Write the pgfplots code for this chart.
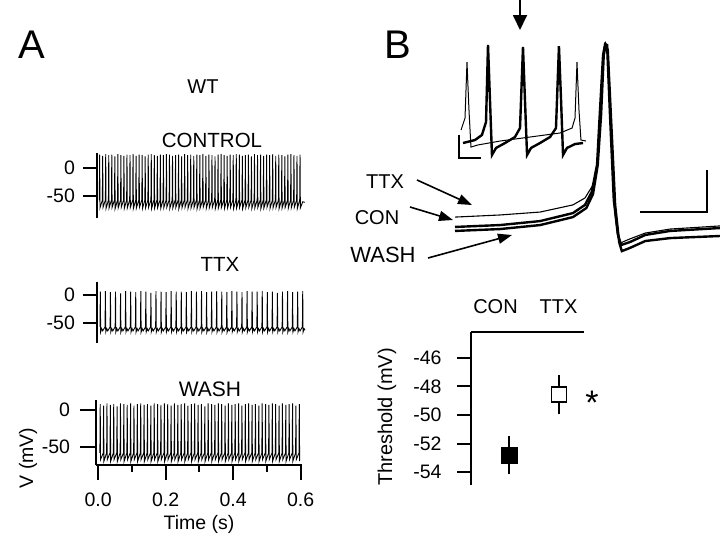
\documentclass[border=0pt]{standalone}
\usepackage{fontspec}
\setmainfont{Liberation Sans}
\usepackage{pgfplots}
\pgfplotsset{compat=1.18}
\usetikzlibrary{arrows.meta}

\newcommand\fs[1]{\fontsize{#1}{#1}\selectfont}
\pgfplotsset{
  every axis/.append style={scale only axis},
  tr/.style={black, line width=0.9pt, no marks},
  ax/.style={axis line style={line width=2pt,-}, tick style={line width=2pt,black},
    tick align=outside, major tick length=13.5pt, minor tick length=7pt,
    tick label style={font=\fs{19.5}}, yticklabel style={xshift=-5pt}},
}

\begin{document}
\begin{tikzpicture}
\useasboundingbox (0pt,0pt) rectangle (720pt,-539pt);

% ---------------- panel A ----------------
\node[font=\fs{40}] at (32pt,-45pt) {A};
\node[font=\fs{20}] at (203pt,-87pt) {WT};
\node[font=\fs{20.5}] at (212pt,-140pt) {CONTROL};
\node[font=\fs{20.5}] at (220pt,-264pt) {TTX};
\node[font=\fs{21}] at (210pt,-389pt) {WASH};
\node[font=\fs{19.5}, rotate=90] at (28pt,-458pt) {V (mV)};
\node[font=\fs{19.5}] at (199pt,-524pt) {Time (s)};

% control
\begin{axis}[at={(96.95pt,-218pt)}, anchor=south west, width=210.5pt, height=65pt,
  xmin=-0.004, xmax=0.62, ymin=-89, ymax=27,
  axis x line=none, axis y line*=left,
  ytick={-50,0}, yticklabels={-50,0}, ax]
\addplot[tr] coordinates {
(0.003,-57)(0.004,24)(0.005,-71)(0.012,-57)(0.013,22)(0.014,-70)(0.021,-57)(0.022,25)(0.023,-72)
(0.030,-57)(0.031,23)(0.032,-71)(0.039,-57)(0.040,24)(0.041,-70)(0.048,-57)(0.049,21)(0.050,-72)
(0.057,-57)(0.058,25)(0.059,-71)(0.066,-57)(0.067,23)(0.068,-70)(0.075,-57)(0.076,22)(0.077,-72)
(0.084,-57)(0.085,24)(0.086,-71)(0.093,-57)(0.094,23)(0.095,-70)(0.102,-57)(0.103,25)(0.104,-72)
(0.111,-57)(0.112,22)(0.113,-71)(0.120,-57)(0.121,24)(0.122,-70)(0.129,-57)(0.130,23)(0.131,-72)
(0.138,-57)(0.139,21)(0.140,-71)(0.147,-57)(0.148,24)(0.149,-70)(0.156,-57)(0.157,25)(0.158,-72)
(0.165,-57)(0.166,23)(0.167,-71)(0.174,-57)(0.175,22)(0.176,-70)(0.183,-57)(0.184,24)(0.185,-72)
(0.192,-57)(0.193,23)(0.194,-71)(0.201,-57)(0.202,25)(0.203,-70)(0.210,-57)(0.211,24)(0.212,-72)
(0.219,-57)(0.220,22)(0.221,-71)(0.228,-57)(0.229,23)(0.230,-70)(0.237,-57)(0.238,24)(0.239,-72)
(0.246,-57)(0.247,21)(0.248,-71)(0.255,-57)(0.256,25)(0.257,-70)(0.264,-57)(0.265,23)(0.266,-72)
(0.273,-57)(0.274,24)(0.275,-71)(0.282,-57)(0.283,22)(0.284,-70)(0.291,-57)(0.292,24)(0.293,-72)
(0.300,-57)(0.301,23)(0.302,-71)(0.309,-57)(0.310,25)(0.311,-70)(0.318,-57)(0.319,22)(0.320,-72)
(0.327,-57)(0.328,24)(0.329,-71)(0.336,-57)(0.337,23)(0.338,-70)(0.345,-57)(0.346,21)(0.347,-72)
(0.354,-57)(0.355,24)(0.356,-71)(0.363,-57)(0.364,25)(0.365,-70)(0.372,-57)(0.373,23)(0.374,-72)
(0.381,-57)(0.382,22)(0.383,-71)(0.390,-57)(0.391,24)(0.392,-70)(0.399,-57)(0.400,23)(0.401,-72)
(0.408,-57)(0.409,25)(0.410,-71)(0.417,-57)(0.418,24)(0.419,-70)(0.426,-57)(0.427,22)(0.428,-72)
(0.435,-57)(0.436,23)(0.437,-71)(0.444,-57)(0.445,24)(0.446,-70)(0.453,-57)(0.454,21)(0.455,-72)
(0.462,-57)(0.463,25)(0.464,-71)(0.471,-57)(0.472,23)(0.473,-70)(0.480,-57)(0.481,24)(0.482,-72)
(0.489,-57)(0.490,22)(0.491,-71)(0.498,-57)(0.499,24)(0.500,-70)(0.507,-57)(0.508,23)(0.509,-72)
(0.516,-57)(0.517,25)(0.518,-71)(0.525,-57)(0.526,22)(0.527,-70)(0.534,-57)(0.535,24)(0.536,-72)
(0.543,-57)(0.544,23)(0.545,-71)(0.552,-57)(0.553,21)(0.554,-70)(0.561,-57)(0.562,24)(0.563,-72)
(0.570,-57)(0.571,25)(0.572,-71)(0.579,-57)(0.580,23)(0.581,-70)(0.588,-57)(0.589,22)(0.590,-72)
(0.597,-57)(0.598,24)(0.599,-71)(0.606,-60)(0.612,-61)};
\end{axis}

% ttx
\begin{axis}[at={(96.95pt,-343pt)}, anchor=south west, width=210.5pt, height=61pt,
  xmin=-0.004, xmax=0.62, ymin=-85.7, ymax=23.2,
  axis x line=none, axis y line*=left,
  ytick={-50,0}, yticklabels={-50,0}, ax]
\addplot[tr] coordinates {
(0.005,-57)(0.006,6)(0.007,-66)(0.010,-60)(0.013,-64)
(0.020,-57)(0.021,7)(0.022,-66)(0.025,-60)(0.028,-64)
(0.035,-57)(0.036,5)(0.037,-66)(0.040,-60)(0.043,-64)
(0.050,-57)(0.051,6)(0.052,-66)(0.055,-60)(0.058,-64)
(0.065,-57)(0.066,3)(0.067,-66)(0.070,-60)(0.073,-64)
(0.080,-57)(0.081,7)(0.082,-66)(0.085,-60)(0.088,-64)
(0.095,-57)(0.096,6)(0.097,-66)(0.100,-60)(0.103,-64)
(0.110,-57)(0.111,5)(0.112,-66)(0.115,-60)(0.118,-64)
(0.125,-57)(0.126,7)(0.127,-66)(0.130,-60)(0.133,-64)
(0.140,-57)(0.141,6)(0.142,-66)(0.145,-60)(0.148,-64)
(0.155,-57)(0.156,4)(0.157,-66)(0.160,-60)(0.163,-64)
(0.170,-57)(0.171,7)(0.172,-66)(0.175,-60)(0.178,-64)
(0.185,-57)(0.186,6)(0.187,-66)(0.190,-60)(0.193,-64)
(0.200,-57)(0.201,5)(0.202,-66)(0.205,-60)(0.208,-64)
(0.215,-57)(0.216,7)(0.217,-66)(0.220,-60)(0.223,-64)
(0.230,-57)(0.231,6)(0.232,-66)(0.235,-60)(0.238,-64)
(0.245,-57)(0.246,6)(0.247,-66)(0.250,-60)(0.253,-64)
(0.260,-57)(0.261,5)(0.262,-66)(0.265,-60)(0.268,-64)
(0.275,-57)(0.276,7)(0.277,-66)(0.280,-60)(0.283,-64)
(0.290,-57)(0.291,6)(0.292,-66)(0.295,-60)(0.298,-64)
(0.305,-57)(0.306,7)(0.307,-66)(0.310,-60)(0.313,-64)
(0.320,-57)(0.321,5)(0.322,-66)(0.325,-60)(0.328,-64)
(0.335,-57)(0.336,6)(0.337,-66)(0.340,-60)(0.343,-64)
(0.350,-57)(0.351,7)(0.352,-66)(0.355,-60)(0.358,-64)
(0.365,-57)(0.366,6)(0.367,-66)(0.370,-60)(0.373,-64)
(0.380,-57)(0.381,5)(0.382,-66)(0.385,-60)(0.388,-64)
(0.395,-57)(0.396,7)(0.397,-66)(0.400,-60)(0.403,-64)
(0.410,-57)(0.411,6)(0.412,-66)(0.415,-60)(0.418,-64)
(0.425,-57)(0.426,5)(0.427,-66)(0.430,-60)(0.433,-64)
(0.440,-57)(0.441,7)(0.442,-66)(0.445,-60)(0.448,-64)
(0.455,-57)(0.456,6)(0.457,-66)(0.460,-60)(0.463,-64)
(0.470,-57)(0.471,6)(0.472,-66)(0.475,-60)(0.478,-64)
(0.485,-57)(0.486,7)(0.487,-66)(0.490,-60)(0.493,-64)
(0.500,-57)(0.501,5)(0.502,-66)(0.505,-60)(0.508,-64)
(0.515,-57)(0.516,6)(0.517,-66)(0.520,-60)(0.523,-64)
(0.530,-57)(0.531,4)(0.532,-66)(0.535,-60)(0.538,-64)
(0.545,-57)(0.546,6)(0.547,-66)(0.550,-60)(0.553,-64)
(0.560,-57)(0.561,7)(0.562,-66)(0.565,-60)(0.568,-64)
(0.575,-57)(0.576,5)(0.577,-66)(0.580,-60)(0.583,-64)
(0.590,-57)(0.591,6)(0.592,-66)(0.595,-60)(0.598,-64)
(0.605,-57)(0.606,7)(0.607,-66)(0.610,-60)(0.613,-63)};
\end{axis}

% wash
\begin{axis}[at={(95.5pt,-465pt)}, anchor=south west, width=206.5pt, height=65pt,
  xmin=-0.008, xmax=0.604, ymin=-74.3, ymax=13.5,
  axis lines*=left,
  xtick={0,0.2,0.4,0.6}, xticklabels={0.0,0.2,0.4,0.6}, minor xtick={0.1,0.3,0.5},
  ytick={-50,0}, yticklabels={-50,0}, ax, major tick length=15pt,
  xticklabel style={yshift=-9pt}, yticklabel style={xshift=-2pt}]
\addplot[tr] coordinates {
(0.005,-58)(0.006,8)(0.007,-67)(0.015,-58)(0.016,6)(0.017,-69)(0.025,-58)(0.026,9)(0.027,-67)
(0.035,-58)(0.036,7)(0.037,-69)(0.045,-58)(0.046,8)(0.047,-67)(0.055,-58)(0.056,5)(0.057,-69)
(0.065,-58)(0.066,9)(0.067,-67)(0.075,-58)(0.076,8)(0.077,-69)(0.085,-58)(0.086,7)(0.087,-67)
(0.095,-58)(0.096,9)(0.097,-69)(0.105,-58)(0.106,6)(0.107,-67)(0.115,-58)(0.116,8)(0.117,-69)
(0.125,-58)(0.126,9)(0.127,-67)(0.135,-58)(0.136,7)(0.137,-69)(0.145,-58)(0.146,8)(0.147,-67)
(0.155,-58)(0.156,6)(0.157,-69)(0.165,-58)(0.166,9)(0.167,-67)(0.175,-58)(0.176,8)(0.177,-69)
(0.185,-58)(0.186,7)(0.187,-67)(0.195,-58)(0.196,9)(0.197,-69)(0.205,-58)(0.206,8)(0.207,-67)
(0.215,-58)(0.216,6)(0.217,-69)(0.225,-58)(0.226,9)(0.227,-67)(0.235,-58)(0.236,7)(0.237,-69)
(0.245,-58)(0.246,8)(0.247,-67)(0.255,-58)(0.256,9)(0.257,-69)(0.265,-58)(0.266,6)(0.267,-67)
(0.275,-58)(0.276,8)(0.277,-69)(0.285,-58)(0.286,9)(0.287,-67)(0.295,-58)(0.296,7)(0.297,-69)
(0.305,-58)(0.306,8)(0.307,-67)(0.315,-58)(0.316,5)(0.317,-69)(0.325,-58)(0.326,9)(0.327,-67)
(0.335,-58)(0.336,8)(0.337,-69)(0.345,-58)(0.346,7)(0.347,-67)(0.355,-58)(0.356,9)(0.357,-69)
(0.365,-58)(0.366,8)(0.367,-67)(0.375,-58)(0.376,6)(0.377,-69)(0.385,-58)(0.386,9)(0.387,-67)
(0.395,-58)(0.396,7)(0.397,-69)(0.405,-58)(0.406,8)(0.407,-67)(0.415,-58)(0.416,9)(0.417,-69)
(0.425,-58)(0.426,6)(0.427,-67)(0.435,-58)(0.436,8)(0.437,-69)(0.445,-58)(0.446,9)(0.447,-67)
(0.455,-58)(0.456,7)(0.457,-69)(0.465,-58)(0.466,8)(0.467,-67)(0.475,-58)(0.476,6)(0.477,-69)
(0.485,-58)(0.486,9)(0.487,-67)(0.495,-58)(0.496,8)(0.497,-69)(0.505,-58)(0.506,7)(0.507,-67)
(0.515,-58)(0.516,9)(0.517,-69)(0.525,-58)(0.526,8)(0.527,-67)(0.535,-58)(0.536,6)(0.537,-69)
(0.545,-58)(0.546,9)(0.547,-67)(0.555,-58)(0.556,7)(0.557,-69)(0.565,-58)(0.566,8)(0.567,-67)
(0.575,-58)(0.576,9)(0.577,-69)(0.585,-58)(0.586,6)(0.587,-67)(0.595,-58)(0.596,8)(0.597,-69)};
\end{axis}

% ---------------- panel B ----------------
\node[font=\fs{40}] at (398pt,-45pt) {B};
\draw[line width=1.8pt, -{Triangle[length=15pt,width=14pt]}] (520pt,0pt) -- (520pt,-30pt);

% inset: three spikes (time ms, voltage mV)
\begin{axis}[at={(455pt,-166pt)}, anchor=south west, width=135.3pt, height=138pt,
  xmin=0, xmax=123, ymin=-80, ymax=40, hide axis, clip=false]
\addplot[black, line width=2.4pt, no marks] coordinates {
(7.3,-60)(18.2,-57.4)(24.5,-53.0)(28.2,-41.7)(30.0,25.2)(31.8,-22.6)(33.6,-70.4)(37.3,-64.3)
(45.5,-60.0)(54.5,-54.8)(59.1,-47.0)(61.8,23.5)(63.6,-22.6)(65.5,-70.4)(69.1,-64.3)
(77.3,-60.0)(86.4,-54.8)(91.8,-47.0)(94.5,24.3)(96.4,-22.6)(98.2,-70.4)(101.8,-64.3)
(109.1,-60.9)(116.4,-60.0)};
\addplot[black, line width=1pt, no marks] coordinates {
(5.5,-48.7)(9.1,-38.3)(10.9,10.4)(12.7,-31.3)(14.5,-63.5)(20.9,-61.7)(40.9,-58.3)
(68.2,-54.8)(95.5,-51.3)(106.4,-47.0)(109.1,-38.3)(110.9,10.4)(112.7,-31.3)(114.5,-57.4)(119.1,-58.3)};
\addplot[black, line width=2pt, no marks] coordinates {(3.64,-53.0)(3.64,-73.0)(23.6,-73.0)};
\end{axis}

% single action potential
\begin{axis}[at={(455pt,-259.5pt)}, anchor=south west, width=264.65pt, height=231pt,
  xmin=0, xmax=39.5, ymin=-75, ymax=35, hide axis, clip=false]
\addplot[black, line width=2.4pt, no marks] coordinates {
(0,-61.4)(6.7,-60.5)(12.7,-58.6)(17.6,-54.8)(19.6,-50.5)(20.6,-43.8)(21.3,-30.0)(21.8,-6.2)
(22.2,22.4)(22.5,27.1)(22.8,24.8)(23.3,-8.6)(23.9,-49.0)(24.5,-66.7)(24.9,-71.0)(26.1,-69.5)
(28.4,-66.2)(32.1,-64.8)(39.6,-63.8)};
\addplot[black, line width=2.4pt, no marks] coordinates {
(0,-59.5)(6.7,-58.6)(12.7,-56.7)(17.6,-52.9)(19.4,-49.0)(20.4,-42.9)(21.2,-30.0)(21.6,-6.2)
(22.1,22.4)(22.4,27.6)(22.7,27.1)(23.1,-3.8)(23.7,-46.7)(24.3,-63.0)(24.8,-68.1)(26.1,-66.7)
(28.4,-63.3)(32.1,-61.4)(39.6,-60.0)};
\addplot[black, line width=1.1pt, no marks] coordinates {
(0,-54.8)(6.7,-53.8)(12.7,-52.4)(17.6,-49.0)(19.4,-45.7)(20.6,-39.5)(21.3,-27.6)(21.8,-3.8)
(22.2,24.8)(22.5,27.1)(22.8,22.4)(23.3,-13.3)(23.9,-53.8)(24.3,-64.0)(24.7,-67.1)(26.1,-65.2)
(28.4,-62.4)(32.1,-60.5)(39.6,-59.0)};
\addplot[black, line width=2pt, no marks] coordinates {(27.6,-52.4)(37.6,-52.4)(37.6,-32.4)};
\end{axis}

\node[font=\fs{20}] at (385pt,-182pt) {TTX};
\node[font=\fs{20}] at (377pt,-218pt) {CON};
\node[font=\fs{22}] at (383pt,-255pt) {WASH};
\draw[line width=1.6pt, -{Triangle[length=14pt,width=10pt]}] (417pt,-180pt) -- (472pt,-205pt);
\draw[line width=1.6pt, -{Triangle[length=14pt,width=10pt]}] (410pt,-207pt) -- (453pt,-220pt);
\draw[line width=1.6pt, -{Triangle[length=14pt,width=10pt]}] (428pt,-258pt) -- (512pt,-235pt);

% threshold
\node[font=\fs{20}] at (495.5pt,-307pt) {CON};
\node[font=\fs{20}] at (558.5pt,-307pt) {TTX};
\node[font=\fs{20}, rotate=90] at (387pt,-417pt) {Threshold (mV)};
\node[font=\fs{34}, anchor=base] at (592pt,-414pt) {*};
\begin{axis}[at={(471pt,-485pt)}, anchor=south west, width=113pt, height=153pt,
  xmin=0.24, xmax=2.5, ymin=-54.91, ymax=-44.18,
  axis x line*=top, axis y line*=left, xtick=\empty,
  ytick={-54,-52,-50,-48,-46}, yticklabels={-54,-52,-50,-48,-46}, ax, major tick length=14pt,
  yticklabel style={xshift=-7pt}]
\addplot[only marks, mark=square*, mark size=8pt, mark options={fill=black, draw=black},
  error bars/.cd, y dir=both, y explicit, error bar style={line width=1.5pt, black},
  error mark options={mark size=5pt, line width=1.5pt, black}]
  coordinates {(1,-52.8) +- (0,1.0)};
\addplot[only marks, mark=square*, mark size=7.6pt, mark options={fill=white, draw=black, line width=1.6pt},
  error bars/.cd, y dir=both, y explicit, error bar style={line width=1.5pt, black},
  error mark options={mark size=5pt, line width=1.5pt, black}]
  coordinates {(2,-48.55) +- (0,1.0)};
\end{axis}
\end{tikzpicture}
\end{document}
